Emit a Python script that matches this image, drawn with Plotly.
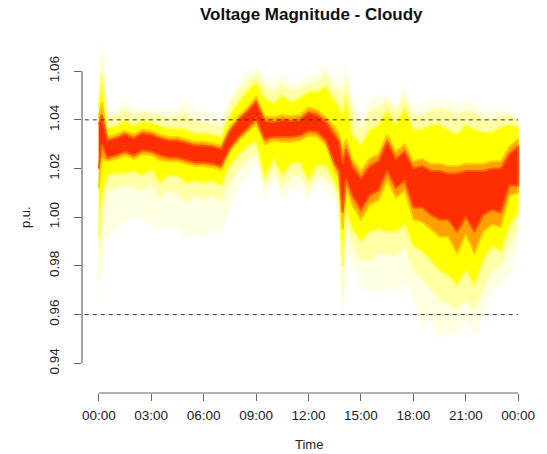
import plotly.graph_objects as go

# ---- data ----
hours = [0, 0.17, 0.5, 1.0, 1.5, 2.0, 2.5, 3.0, 3.5, 4.0, 4.5, 5.0, 5.5, 6.0, 6.5, 7.0,
         7.5, 8.0, 8.5, 9.0, 9.5, 10.0, 10.5, 11.0, 11.5, 12.0, 12.5, 13.0, 13.5,
         13.75, 13.95, 14.15,
         14.5, 15.0, 15.5, 16.0, 16.5, 17.0, 17.5, 18.0, 18.5, 19.0, 19.5, 20.0,
         20.5, 21.0, 21.5, 22.0, 22.5, 23.0, 23.5, 24.0]

p01 = [0.966, 0.982, 0.991, 0.995, 0.998, 1.000, 0.999, 0.9975, 0.995, 0.996, 0.996, 0.991, 0.9935, 0.991, 0.995, 0.9935,
       1.004, 1.012, 1.0175, 1.022, 1.008, 1.015, 1.0075, 1.011, 1.0125, 1.007, 1.0135, 1.012, 1.0075,
       1.000, 0.957, 0.985,
       0.982, 0.971, 0.970, 0.969, 0.972, 0.969, 0.974, 0.966, 0.954, 0.958, 0.950, 0.953,
       0.951, 0.958, 0.951, 0.960, 0.970, 0.972, 0.976, 0.988]
p05 = [0.975, 0.994, 1.011, 1.012, 1.013, 1.012, 1.011, 1.013, 1.008, 1.011, 1.010, 1.006, 1.009, 1.007, 1.009, 1.006,
       1.014, 1.0195, 1.0235, 1.026, 1.012, 1.019, 1.012, 1.017, 1.017, 1.011, 1.017, 1.016, 1.011,
       1.005, 0.965, 0.997,
       0.988, 0.982, 0.982, 0.985, 0.985, 0.984, 0.988, 0.978, 0.974, 0.970, 0.966, 0.964,
       0.962, 0.966, 0.962, 0.970, 0.978, 0.980, 0.988, 0.995]
p12 = [0.992, 1.008, 1.017, 1.018, 1.018, 1.019, 1.017, 1.0195, 1.014, 1.017, 1.017, 1.014, 1.015, 1.014, 1.015, 1.013,
       1.021, 1.0255, 1.029, 1.031, 1.016, 1.024, 1.017, 1.022, 1.0225, 1.015, 1.0215, 1.021, 1.0145,
       1.010, 0.980, 1.003,
       0.995, 0.990, 0.994, 0.995, 0.994, 0.994, 0.997, 0.988, 0.986, 0.982, 0.978, 0.976,
       0.972, 0.978, 0.972, 0.982, 0.988, 0.986, 0.996, 1.002]
p25 = [1.012, 1.024, 1.023, 1.024, 1.0255, 1.024, 1.026, 1.0255, 1.0235, 1.023, 1.023, 1.022, 1.021, 1.021, 1.0205, 1.0195,
       1.027, 1.0315, 1.035, 1.038, 1.030, 1.0315, 1.031, 1.031, 1.0315, 1.0335, 1.033, 1.0295, 1.0195,
       1.016, 0.995, 1.012,
       1.005, 0.999, 1.005, 1.007, 1.015, 1.008, 1.011, 0.999, 0.998, 0.995, 0.992, 0.992,
       0.985, 0.993, 0.985, 0.994, 0.997, 0.996, 1.009, 1.010]
p33 = [1.020, 1.030, 1.0245, 1.0255, 1.027, 1.0255, 1.0275, 1.027, 1.0255, 1.0245, 1.0245, 1.0235, 1.0225, 1.0225, 1.022, 1.021,
       1.0285, 1.033, 1.0365, 1.0405, 1.032, 1.033, 1.033, 1.033, 1.0335, 1.0355, 1.035, 1.0315, 1.022,
       1.019, 1.002, 1.016,
       1.009, 1.003, 1.009, 1.011, 1.019, 1.012, 1.015, 1.004, 1.004, 1.001, 0.999, 0.999,
       0.994, 1.000, 0.994, 1.001, 1.003, 1.002, 1.013, 1.013]
p67 = [1.038, 1.042, 1.0315, 1.0325, 1.034, 1.0325, 1.0345, 1.034, 1.0325, 1.0315, 1.0315, 1.0305, 1.0295, 1.0295, 1.029, 1.028,
       1.0355, 1.040, 1.0435, 1.0475, 1.0395, 1.039, 1.040, 1.0395, 1.040, 1.043, 1.042, 1.039, 1.034,
       1.031, 1.022, 1.028,
       1.021, 1.016, 1.021, 1.023, 1.031, 1.024, 1.027, 1.020, 1.021, 1.019, 1.019, 1.018,
       1.018, 1.019, 1.019, 1.019, 1.020, 1.020, 1.026, 1.029]
p75 = [1.041, 1.047, 1.033, 1.034, 1.0355, 1.034, 1.036, 1.0355, 1.034, 1.033, 1.033, 1.032, 1.031, 1.031, 1.0305, 1.0295,
       1.037, 1.0415, 1.045, 1.0495, 1.0415, 1.041, 1.042, 1.0415, 1.042, 1.045, 1.044, 1.041, 1.037,
       1.034, 1.028, 1.032,
       1.024, 1.019, 1.024, 1.026, 1.034, 1.027, 1.030, 1.023, 1.024, 1.022, 1.022, 1.021,
       1.021, 1.022, 1.022, 1.022, 1.023, 1.023, 1.029, 1.032]
p88 = [1.045, 1.058, 1.0365, 1.0375, 1.040, 1.0375, 1.0395, 1.039, 1.0375, 1.0365, 1.0365, 1.036, 1.0345, 1.0345, 1.034, 1.033,
       1.042, 1.0475, 1.052, 1.0555, 1.049, 1.047, 1.050, 1.0475, 1.049, 1.0515, 1.0515, 1.054, 1.0475,
       1.046, 1.042, 1.050,
       1.034, 1.030, 1.036, 1.038, 1.044, 1.038, 1.045, 1.036, 1.036, 1.038, 1.038, 1.036,
       1.034, 1.038, 1.036, 1.035, 1.035, 1.037, 1.038, 1.037]
p95 = [1.048, 1.066, 1.041, 1.042, 1.045, 1.042, 1.043, 1.0425, 1.042, 1.041, 1.0415, 1.043, 1.0395, 1.039, 1.0385, 1.037,
       1.047, 1.0525, 1.056, 1.059, 1.054, 1.052, 1.055, 1.052, 1.053, 1.055, 1.0555, 1.059, 1.052,
       1.053, 1.050, 1.057,
       1.045, 1.036, 1.044, 1.045, 1.048, 1.044, 1.050, 1.042, 1.042, 1.044, 1.045, 1.044,
       1.042, 1.044, 1.043, 1.041, 1.040, 1.042, 1.042, 1.040]
p99 = [1.052, 1.072, 1.0445, 1.044, 1.048, 1.044, 1.045, 1.044, 1.0445, 1.044, 1.044, 1.049, 1.044, 1.043, 1.043, 1.040,
       1.049, 1.0555, 1.0595, 1.062, 1.058, 1.0555, 1.059, 1.055, 1.056, 1.058, 1.059, 1.0625, 1.056,
       1.058, 1.056, 1.0625,
       1.051, 1.040, 1.048, 1.050, 1.050, 1.046, 1.054, 1.046, 1.046, 1.048, 1.048, 1.048,
       1.046, 1.048, 1.047, 1.044, 1.0435, 1.044, 1.0435, 1.041]

tick_hours = [0, 3, 6, 9, 12, 15, 18, 21, 24]
tick_labels = ["00:00", "03:00", "06:00", "09:00", "12:00", "15:00", "18:00", "21:00", "00:00"]
y_ticks = [0.94, 0.96, 0.98, 1.00, 1.02, 1.04, 1.06]
y_tick_labels = ["0.94", "0.96", "0.98", "1.00", "1.02", "1.04", "1.06"]
limit_lines = [0.96, 1.04]

for name, arr in [("p01", p01), ("p05", p05), ("p12", p12), ("p25", p25), ("p33", p33),
                  ("p67", p67), ("p75", p75), ("p88", p88), ("p95", p95), ("p99", p99)]:
    if len(arr) != len(hours):
        raise ValueError(f"{name} has {len(arr)} values, expected {len(hours)}")

# (lower, upper, fill colour, soft edge colour)
bands = [
    (p01, p99, "#FFFFE2", "#FFFFF0"),
    (p05, p95, "#FFFFA4", "#FFFFC6"),
    (p12, p88, "#FFFF00", "#FFFF58"),
    (p25, p75, "#FFA000", "#FFCC00"),
    (p33, p67, "#FF2E00", "#FF5C00"),
]

FONT = "Liberation Sans, Arial, Helvetica, sans-serif"

fig = go.Figure()
for lo, hi, col, edge in bands:
    fig.add_trace(go.Scatter(
        x=hours + hours[::-1], y=hi + lo[::-1],
        fill="toself", fillcolor=col, mode="lines",
        line=dict(width=2, color=edge), hoverinfo="skip", showlegend=False))

shapes = []
for v in limit_lines:
    shapes.append(dict(type="line", xref="x", yref="y", x0=-0.8, x1=24, y0=v, y1=v,
                       line=dict(color="#333333", width=1, dash="4px,4px")))
# detached R-style axis lines
shapes.append(dict(type="line", xref="paper", yref="y", x0=0, x1=0,
                   y0=y_ticks[0], y1=y_ticks[-1], line=dict(color="#666666", width=1.2)))
shapes.append(dict(type="line", xref="x", yref="paper", x0=tick_hours[0], x1=tick_hours[-1],
                   y0=0, y1=0, line=dict(color="#666666", width=1.2)))

fig.update_layout(
    width=547, height=454,
    margin=dict(l=82, r=12, t=30, b=61),
    plot_bgcolor="white", paper_bgcolor="white",
    font=dict(family=FONT, size=13, color="#222222"),
    shapes=shapes,
    xaxis=dict(range=[-0.96, 24.96], tickmode="array", tickvals=tick_hours, ticktext=tick_labels,
               ticks="outside", ticklen=7, tickwidth=1.2, tickcolor="#666666",
               showgrid=False, zeroline=False, showline=False,
               tickfont=dict(family=FONT, size=13.5, color="#222222"), ticklabelstandoff=3),
    yaxis=dict(range=[0.9278, 1.0769], tickmode="array", tickvals=y_ticks, ticktext=y_tick_labels,
               ticks="outside", ticklen=7, tickwidth=1.2, tickcolor="#666666", tickangle=-90,
               showgrid=False, zeroline=False, showline=False,
               tickfont=dict(family=FONT, size=13.5, color="#222222"), ticklabelstandoff=10),
    annotations=[
        dict(text="<b>Voltage Magnitude - Cloudy</b>", xref="paper", yref="paper",
             x=0.506, y=(393 - 14) / 363, xanchor="center", yanchor="middle", showarrow=False,
             font=dict(family=FONT, size=17, color="#111111")),
        dict(text="Time", xref="paper", yref="paper", x=0.5, y=(393 - 444) / 363,
             xanchor="center", yanchor="middle", showarrow=False,
             font=dict(family=FONT, size=13, color="#222222")),
        dict(text="p.u.", xref="paper", yref="paper", x=(25 - 82) / 453, y=(393 - 217) / 363,
             xanchor="center", yanchor="middle", textangle=-90, showarrow=False,
             font=dict(family=FONT, size=13, color="#222222")),
    ],
)

fig.write_html("out.html")
